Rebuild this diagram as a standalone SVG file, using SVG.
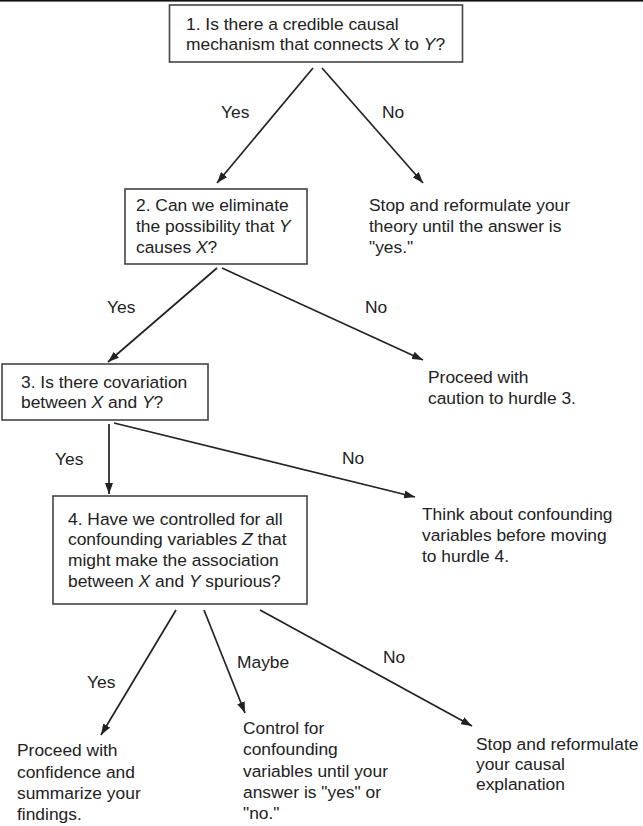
<svg xmlns="http://www.w3.org/2000/svg" width="643" height="826" viewBox="0 0 643 826">
<style>
text{font-family:"Liberation Sans",Arial,sans-serif;font-size:17.4px;fill:#222}
.i{font-style:italic}
.box{fill:#fff;stroke:#444;stroke-width:1.6}
.c{stroke:#222;stroke-width:1.7;fill:none;marker-end:url(#ah)}
</style>
<defs>
<marker id="ah" markerUnits="userSpaceOnUse" markerWidth="11" markerHeight="8" refX="11" refY="4" orient="auto">
<path d="M0,0 L11,4 L0,8 Z" fill="#222"/>
</marker>
</defs>
<rect x="0" y="0" width="643" height="1.6" fill="#111"/>
<g id="connectors">
<line class="c" x1="313" y1="68" x2="217" y2="183"/>
<line class="c" x1="322" y1="68" x2="423" y2="183"/>
<line class="c" x1="217" y1="268" x2="108" y2="362"/>
<line class="c" x1="222" y1="268" x2="423" y2="360"/>
<line class="c" x1="109" y1="424" x2="109" y2="494"/>
<line class="c" x1="114" y1="423" x2="415" y2="497"/>
<line class="c" x1="176" y1="610" x2="101" y2="735"/>
<line class="c" x1="204" y1="610" x2="245" y2="713"/>
<line class="c" x1="260" y1="610" x2="472" y2="726"/>
<text x="221" y="118">Yes</text>
<text x="382" y="118">No</text>
<text x="107" y="313">Yes</text>
<text x="365" y="313">No</text>
<text x="55" y="465">Yes</text>
<text x="342" y="464">No</text>
<text x="87" y="688">Yes</text>
<text x="237" y="668">Maybe</text>
<text x="383" y="663">No</text>
</g>
<g id="q1">
<rect class="box" x="169.5" y="5" width="293" height="57"/>
<text x="186" y="30">1. Is there a credible causal</text>
<text x="186" y="50">mechanism that connects <tspan class="i">X</tspan> to <tspan class="i">Y</tspan>?</text>
</g>
<g id="stop1">
<text x="369" y="211">Stop and reformulate your</text>
<text x="369" y="232">theory until the answer is</text>
<text x="369" y="253">"yes."</text>
</g>
<g id="q2">
<rect class="box" x="125" y="189" width="182" height="75"/>
<text x="136" y="211">2. Can we eliminate</text>
<text x="136" y="232">the possibility that <tspan class="i">Y</tspan></text>
<text x="136" y="253">causes <tspan class="i">X</tspan>?</text>
</g>
<g id="q3">
<rect class="box" x="2" y="364" width="206" height="56"/>
<text x="21" y="388">3. Is there covariation</text>
<text x="21" y="408">between <tspan class="i">X</tspan> and <tspan class="i">Y</tspan>?</text>
</g>
<g id="caution">
<text x="428" y="383">Proceed with</text>
<text x="428" y="404">caution to hurdle 3.</text>
</g>
<g id="q4">
<rect class="box" x="53" y="496" width="254" height="108"/>
<text x="68" y="525">4. Have we controlled for all</text>
<text x="68" y="545">confounding variables <tspan class="i">Z</tspan> that</text>
<text x="68" y="566">might make the association</text>
<text x="68" y="587">between <tspan class="i">X</tspan> and <tspan class="i">Y</tspan> spurious?</text>
</g>
<g id="think">
<text x="422" y="520">Think about confounding</text>
<text x="422" y="541">variables before moving</text>
<text x="422" y="562">to hurdle 4.</text>
</g>
<g id="confidence">
<text x="17" y="756">Proceed with</text>
<text x="17" y="778">confidence and</text>
<text x="17" y="799">summarize your</text>
<text x="17" y="820">findings.</text>
</g>
<g id="control">
<text x="243" y="734">Control for</text>
<text x="243" y="755">confounding</text>
<text x="243" y="777">variables until your</text>
<text x="243" y="798">answer is "yes" or</text>
<text x="243" y="819">"no."</text>
</g>
<g id="stop2">
<text x="476" y="750">Stop and reformulate</text>
<text x="476" y="770">your causal</text>
<text x="476" y="790">explanation</text>
</g>
</svg>
